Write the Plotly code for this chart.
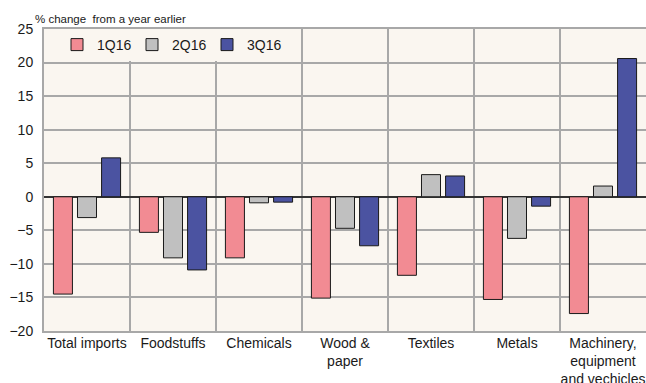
import plotly.graph_objects as go

categories = ["Total imports", "Foodstuffs", "Chemicals", "Wood &<br>paper",
              "Textiles", "Metals", "Machinery,<br>equipment<br>and vechicles"]
q1_2016 = [-14.5, -5.3, -9.1, -15.1, -11.7, -15.3, -17.4]
q2_2016 = [-3.1, -9.1, -0.9, -4.7, 3.3, -6.2, 1.6]
q3_2016 = [5.8, -10.9, -0.8, -7.3, 3.1, -1.4, 20.6]
series_names = ["1Q16", "2Q16", "3Q16"]
y_ticks = [-20, -15, -10, -5, 0, 5, 10, 15, 20, 25]

colors = ["#F28B93", "#C0C0C0", "#4B53A1"]
FONT = "Liberation Sans, Arial, sans-serif"

fig = go.Figure()
for name, vals, col in zip(series_names, [q1_2016, q2_2016, q3_2016], colors):
    fig.add_trace(go.Bar(
        x=categories, y=vals, name=name,
        marker=dict(color=col, line=dict(color="#1a1a1a", width=1)),
    ))

fig.update_layout(
    width=646, height=383,
    margin=dict(l=44, r=0, t=29, b=52),
    paper_bgcolor="white",
    plot_bgcolor="#FAF6F0",
    barmode="group",
    bargap=0.16,
    bargroupgap=0.21,
    font=dict(family=FONT, size=14, color="#1a1a1a"),
    showlegend=True,
    legend=dict(
        orientation="h",
        x=(57 - 44) / 602, xanchor="left",
        y=1.0, yanchor="top",
        bgcolor="#FAF6F0",
        font=dict(size=14),
        entrywidth=30, entrywidthmode="pixels",
        itemwidth=30,
    ),
    xaxis=dict(
        type="category",
        tickson="boundaries",
        ticks="",
        tickangle=0,
        showgrid=True, gridcolor="#A8A8A8", gridwidth=1.5,
        showline=True, linecolor="#A8A8A8", linewidth=1.5, mirror=True,
        tickfont=dict(size=14),
        ticklabelstandoff=-2,
        automargin=False,
    ),
    yaxis=dict(
        range=[-20, 25],
        tickvals=y_ticks,
        showgrid=True, gridcolor="#A8A8A8", gridwidth=1.5,
        zeroline=True, zerolinecolor="#333333", zerolinewidth=1.5,
        showline=True, linecolor="#A8A8A8", linewidth=2, mirror=True,
        ticks="", ticklabelstandoff=6,
        tickfont=dict(size=14),
        automargin=False,
    ),
    annotations=[
        dict(text="% change  from a year earlier", xref="paper", yref="paper",
             x=-0.018, y=1.0, xanchor="left", yanchor="bottom", yshift=2,
             showarrow=False, font=dict(size=11.5, color="#1a1a1a")),
        dict(text="<b>Weakening growth in machinery imports, changing trade</b>",
             xref="paper", yref="paper", x=0.5, y=1.0, xanchor="center",
             yanchor="bottom", yshift=27, showarrow=False,
             font=dict(size=16, color="#000000")),
    ],
)

fig.write_html("out.html",
               config={"displayModeBar": False},
               post_script="document.body.style.margin='0';document.body.style.overflow='hidden';")
